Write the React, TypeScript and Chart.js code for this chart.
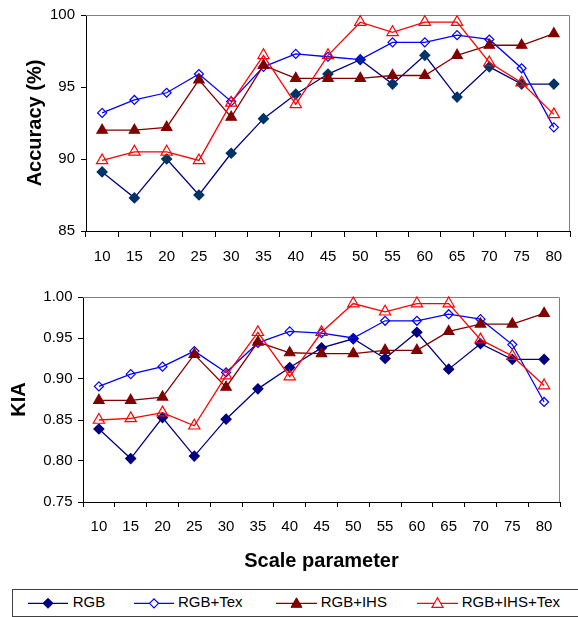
import React, { useEffect, useRef } from "react";
import { Chart, registerables } from "chart.js";

Chart.register(...registerables);

const FONT = "'Liberation Sans', Arial, Helvetica, sans-serif";

const categories = ["10", "15", "20", "25", "30", "35", "40", "45", "50", "55", "60", "65", "70", "75", "80"];
const seriesNames = ["RGB", "RGB+Tex", "RGB+IHS", "RGB+IHS+Tex"];

const accRGB = [89.1, 87.3, 90.0, 87.5, 90.4, 92.8, 94.5, 95.9, 96.9, 95.2, 97.2, 94.3, 96.4, 95.2, 95.2];
const accTex = [93.2, 94.1, 94.6, 95.9, 94.0, 96.4, 97.3, 97.1, 96.9, 98.1, 98.1, 98.6, 98.3, 96.3, 92.2];
const accIHS = [92.0, 92.0, 92.2, 95.5, 92.9, 96.5, 95.6, 95.6, 95.6, 95.8, 95.8, 97.2, 97.9, 97.9, 98.7];
const accIHSTex = [89.9, 90.5, 90.5, 89.9, 93.9, 97.2, 93.8, 97.2, 99.5, 98.8, 99.5, 99.5, 96.7, 95.3, 93.1];

const kiaRGB = [0.839, 0.803, 0.853, 0.806, 0.851, 0.888, 0.914, 0.938, 0.949, 0.925, 0.957, 0.912, 0.943, 0.924, 0.924];
const kiaTex = [0.891, 0.906, 0.915, 0.934, 0.908, 0.944, 0.958, 0.956, 0.950, 0.971, 0.971, 0.979, 0.973, 0.942, 0.872];
const kiaIHS = [0.874, 0.874, 0.878, 0.930, 0.890, 0.945, 0.932, 0.931, 0.931, 0.935, 0.935, 0.958, 0.967, 0.967, 0.980];
const kiaIHSTex = [0.850, 0.852, 0.859, 0.843, 0.904, 0.957, 0.903, 0.957, 0.992, 0.982, 0.992, 0.992, 0.948, 0.928, 0.892];

const accTicks = [85, 90, 95, 100];
const kiaTicks = [0.75, 0.8, 0.85, 0.9, 0.95, 1.0];

const frameBorder = {
  id: "frameBorder",
  beforeDatasetsDraw(chart: any) {
    const { ctx, chartArea } = chart;
    ctx.save();
    ctx.strokeStyle = "#808080";
    ctx.lineWidth = 1;
    ctx.beginPath();
    ctx.moveTo(chartArea.left, chartArea.top + 0.5);
    ctx.lineTo(chartArea.right - 0.5, chartArea.top + 0.5);
    ctx.lineTo(chartArea.right - 0.5, chartArea.bottom);
    ctx.stroke();
    ctx.restore();
  },
};

function makeDatasets(values: number[][], rgbFill: string) {
  const styles = [
    { line: "#000080", fill: rgbFill, border: rgbFill, shape: "rectRot", r: 5 },
    { line: "#0000FF", fill: "rgba(255,255,255,0)", border: "#0000FF", shape: "rectRot", r: 4.5 },
    { line: "#800000", fill: "#800000", border: "#800000", shape: "triangle", r: 6 },
    { line: "#FF0000", fill: "rgba(255,255,255,0)", border: "#FF0000", shape: "triangle", r: 6.5 },
  ];
  return values.map((v, i) => ({
    label: seriesNames[i],
    data: v,
    borderColor: styles[i].line,
    borderWidth: 1.3,
    pointStyle: styles[i].shape,
    pointRadius: styles[i].r,
    pointBackgroundColor: styles[i].fill,
    pointBorderColor: styles[i].border,
    pointBorderWidth: 1.2,
    tension: 0,
    clip: false,
    order: 4 - i,
  }));
}

function makeConfig(opts: any): any {
  return {
    type: "line",
    data: { labels: categories, datasets: opts.datasets },
    options: {
      responsive: false,
      animation: false,
      events: [],
      layout: { padding: opts.padding },
      plugins: { legend: { display: false }, tooltip: { enabled: false } },
      scales: {
        x: {
          type: "category",
          offset: true,
          grid: { display: true, drawOnChartArea: false, drawTicks: true, tickLength: opts.xTick, color: "#000", offset: true },
          border: { display: true, color: "#000", width: 1 },
          ticks: { color: "#000", font: { family: FONT, size: 15 }, padding: opts.xPad, maxRotation: 0, autoSkip: false },
          title: opts.xTitle
            ? { display: true, text: opts.xTitle, color: "#000", font: { family: FONT, size: 20, weight: "bold" }, padding: { top: 0, bottom: opts.xTitlePad } }
            : { display: false },
          afterFit: (s: any) => { s.height = opts.xHeight; },
        },
        y: {
          min: opts.yTicks[0],
          max: opts.yTicks[opts.yTicks.length - 1],
          afterBuildTicks: (s: any) => { s.ticks = opts.yTicks.map((v: number) => ({ value: v })); },
          grid: { display: true, drawOnChartArea: false, drawTicks: true, tickLength: 5, color: "#000" },
          border: { display: true, color: "#000", width: 1 },
          ticks: {
            color: "#000",
            font: { family: FONT, size: 15 },
            padding: opts.yPad,
            callback: opts.yFmt,
          },
          title: { display: true, text: opts.yTitle, color: "#000", font: { family: FONT, size: 20, weight: "bold" }, padding: { top: opts.yTitlePad, bottom: 0 } },
          afterFit: (s: any) => { s.width = opts.yWidth; },
        },
      },
    },
    plugins: [frameBorder],
  };
}

function LineChart({ width, height, config }: { width: number; height: number; config: any }) {
  const ref = useRef<HTMLCanvasElement | null>(null);
  useEffect(() => {
    if (!ref.current) return;
    const chart = new Chart(ref.current, config);
    return () => chart.destroy();
  }, []);
  return <canvas ref={ref} width={width} height={height} style={{ display: "block", width, height }} />;
}

function Legend() {
  const cy = 23.3;
  const ty = 21.9;
  const tri = (cx: number) => `${cx},${cy - 5.5} ${cx - 5.5},${cy + 4} ${cx + 5.5},${cy + 4}`;
  const dia = (cx: number, r: number) => `${cx - r},${cy} ${cx},${cy - r} ${cx + r},${cy} ${cx},${cy + r}`;
  const textStyle = { fontFamily: FONT, fontSize: 15, fill: "#000" } as any;
  return (
    <svg width={578} height={37} style={{ position: "absolute", left: 0, top: 580 }}>
      <rect x={12.5} y={9.5} width={580} height={27} fill="white" stroke="#404040" strokeWidth={1} />
      <line x1={28} y1={cy} x2={68} y2={cy} stroke="#000080" strokeWidth={1.3} />
      <polygon points={dia(48, 5)} fill="#000080" stroke="#000080" />
      <text x={72.7} y={ty} dominantBaseline="central" style={textStyle}>{seriesNames[0]}</text>

      <line x1={134} y1={cy} x2={174} y2={cy} stroke="#0000FF" strokeWidth={1.3} />
      <polygon points={dia(154, 4.5)} fill="white" stroke="#0000FF" strokeWidth={1.2} />
      <text x={178} y={ty} dominantBaseline="central" style={textStyle}>{seriesNames[1]}</text>

      <line x1={276} y1={cy} x2={317} y2={cy} stroke="#800000" strokeWidth={1.3} />
      <polygon points={tri(296.5)} fill="#800000" stroke="#800000" />
      <text x={320.7} y={ty} dominantBaseline="central" style={textStyle}>{seriesNames[2]}</text>

      <line x1={417} y1={cy} x2={458} y2={cy} stroke="#FF0000" strokeWidth={1.3} />
      <polygon points={tri(437.5)} fill="white" stroke="#FF0000" strokeWidth={1.2} />
      <text x={461.7} y={ty} dominantBaseline="central" style={textStyle}>{seriesNames[3]}</text>
    </svg>
  );
}

export default function App() {
  const topConfig = makeConfig({
    datasets: makeDatasets([accRGB, accTex, accIHS, accIHSTex], "#003366"),
    padding: { left: 0, right: 8, top: 14, bottom: 0 },
    xTick: 6,
    xPad: 11,
    xHeight: 31,
    yTicks: accTicks,
    yPad: 6,
    yWidth: 86,
    yTitle: "Accuracy (%)",
    yTitlePad: 23,
    yFmt: (v: any) => String(v),
  });
  const bottomConfig = makeConfig({
    datasets: makeDatasets([kiaRGB, kiaTex, kiaIHS, kiaIHSTex], "#000080"),
    padding: { left: 0, right: 18, top: 35, bottom: 0 },
    xTick: 5,
    xPad: 11,
    xHeight: 83,
    xTitle: "Scale parameter",
    xTitlePad: 12,
    yTicks: kiaTicks,
    yPad: 5.5,
    yWidth: 83,
    yTitle: "KIA",
    yTitlePad: 7,
    yFmt: (v: any) => Number(v).toFixed(2),
  });
  return (
    <div style={{ position: "absolute", left: 0, top: 0, width: 578, height: 617, background: "#fff", overflow: "hidden" }}>
      <div style={{ position: "absolute", left: 0, top: 0 }}>
        <LineChart width={578} height={262} config={topConfig} />
      </div>
      <div style={{ position: "absolute", left: 0, top: 262 }}>
        <LineChart width={578} height={323} config={bottomConfig} />
      </div>
      <Legend />
    </div>
  );
}
